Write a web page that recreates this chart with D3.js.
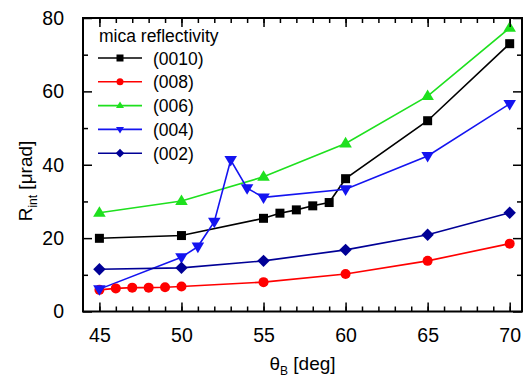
<!DOCTYPE html>
<html><head><meta charset="utf-8">
<script src="https://cdn.jsdelivr.net/npm/d3@7"></script>
<style>
html,body{margin:0;padding:0;background:#fff;}
svg{display:block;font-family:"Liberation Sans",Arial,sans-serif;}
</style></head>
<body><svg id="c" width="528" height="377"></svg>
<script>
const seriesNames = ["(0010)", "(008)", "(006)", "(004)", "(002)"];
const x0010 = [45, 50, 55, 56, 57, 58, 59, 60, 65, 70];
const y0010 = [19.95, 20.7, 25.4, 26.8, 27.7, 28.8, 29.7, 36.2, 52.0, 73.0];
const x008 = [45, 46, 47, 48, 49, 50, 55, 60, 65, 70];
const y008 = [5.9, 6.3, 6.5, 6.5, 6.6, 6.8, 8.0, 10.2, 13.8, 18.5];
const x006 = [45, 50, 55, 60, 65, 70];
const y006 = [26.9, 30.1, 36.7, 45.8, 58.7, 77.3];
const x004 = [45, 50, 51, 52, 53, 54, 55, 60, 65, 70];
const y004 = [6.1, 14.8, 17.7, 24.5, 41.3, 33.6, 31.1, 33.3, 42.4, 56.6];
const x002 = [45, 50, 55, 60, 65, 70];
const y002 = [11.5, 11.9, 13.8, 16.8, 20.9, 26.9];
const xTickLabels = [45, 50, 55, 60, 65, 70];
const yTickLabels = [0, 20, 40, 60, 80];
const legendTitle = "mica reflectivity";

const colors = ["#000000", "#ff0000", "#1ee01e", "#1414f0", "#000096"];
const shapes = ["square", "circle", "triangle", "triangleDown", "diamond"];
const series = [
  {x: x0010, y: y0010}, {x: x008, y: y008}, {x: x006, y: y006},
  {x: x004, y: y004}, {x: x002, y: y002}
].map((s, i) => ({name: seriesNames[i], color: colors[i], shape: shapes[i],
  pts: s.x.map((v, j) => [v, s.y[j]])}));

const W = 528, H = 377;
const m = {l: 83, t: 18, r: 6, b: 65.5};
const svg = d3.select("#c");
const x = d3.scaleLinear().domain([44, 70.75]).range([m.l, W - m.r]);
const y = d3.scaleLinear().domain([0, 80]).range([H - m.b, m.t]);

function markerPath(shape, s) {
  const h = s / 2;
  if (shape === "square") return `M${-h},${-h}H${h}V${h}H${-h}Z`;
  if (shape === "circle") return d3.symbol(d3.symbolCircle, Math.PI * h * h)();
  if (shape === "triangle") { const r = s * 0.6; return `M0,${-r}L${r * 0.95},${r * 0.6}L${-r * 0.95},${r * 0.6}Z`; }
  if (shape === "triangleDown") { const r = s * 0.6; return `M0,${r}L${r * 0.95},${-r * 0.6}L${-r * 0.95},${-r * 0.6}Z`; }
  if (shape === "diamond") { const r = s * 0.62; return `M0,${-r}L${r},0L0,${r}L${-r},0Z`; }
}
const msize = {square: 9, circle: 10, triangle: 11, triangleDown: 11, diamond: 10};

// data
const line = d3.line().x(d => x(d[0])).y(d => y(d[1]));
const g = svg.append("g");
series.forEach(s => {
  g.append("path").attr("d", line(s.pts)).attr("fill", "none")
    .attr("stroke", s.color).attr("stroke-width", 1.6);
});
series.forEach(s => {
  g.selectAll(null).data(s.pts).enter().append("path")
    .attr("d", markerPath(s.shape, msize[s.shape]))
    .attr("transform", d => `translate(${x(d[0])},${y(d[1])})`)
    .attr("fill", s.color);
});

// axes (ticks inward)
const fs = 19.5;
const axB = d3.axisBottom(x).tickValues(d3.range(45, 71, 1)).tickSize(-5).tickFormat("");
const axBM = d3.axisBottom(x).tickValues(xTickLabels).tickSize(-9).tickPadding(17).tickFormat(d3.format("d"));
const axT = d3.axisTop(x).tickValues(d3.range(45, 71, 1)).tickSize(-5).tickFormat("");
const axTM = d3.axisTop(x).tickValues(xTickLabels).tickSize(-9).tickFormat("");
const axL = d3.axisLeft(y).tickValues([10, 30, 50, 70]).tickSize(-5).tickFormat("");
const axLM = d3.axisLeft(y).tickValues(yTickLabels).tickSize(-9).tickPadding(19).tickFormat(d3.format("d"));
const axR = d3.axisRight(y).tickValues([10, 30, 50, 70]).tickSize(-5).tickFormat("");
const axRM = d3.axisRight(y).tickValues(yTickLabels).tickSize(-9).tickFormat("");
function put(ax, tr) {
  const a = svg.append("g").attr("transform", tr).call(ax);
  a.select(".domain").remove();
  a.selectAll("line").attr("stroke", "#000").attr("stroke-width", 1.5);
  a.selectAll("text").attr("font-size", fs).attr("fill", "#000")
    .attr("font-family", "Liberation Sans, Arial, sans-serif");
  return a;
}
put(axB, `translate(0,${H - m.b})`);
put(axBM, `translate(0,${H - m.b})`);
put(axT, `translate(0,${m.t})`);
put(axTM, `translate(0,${m.t})`);
put(axL, `translate(${m.l},0)`);
put(axLM, `translate(${m.l},0)`);
put(axR, `translate(${W - m.r},0)`);
put(axRM, `translate(${W - m.r},0)`);
svg.append("rect").attr("x", m.l).attr("y", m.t)
  .attr("width", W - m.r - m.l).attr("height", H - m.b - m.t)
  .attr("fill", "none").attr("stroke", "#000").attr("stroke-width", 2);

// axis titles
const xt = svg.append("text").attr("x", (m.l + W - m.r) / 2).attr("y", 370)
  .attr("text-anchor", "middle").attr("font-size", 19);
xt.append("tspan").text("θ");
xt.append("tspan").attr("font-size", 12).attr("dy", 5).text("B");
xt.append("tspan").attr("dy", -5).text(" [deg]");

const yt = svg.append("text").attr("transform", "translate(32,181) rotate(-90)")
  .attr("text-anchor", "middle").attr("font-size", 19);
yt.append("tspan").text("R");
yt.append("tspan").attr("font-size", 12).attr("dy", 5).text("int");
yt.append("tspan").attr("dy", -5).text(" [μrad]");

// legend
svg.append("text").attr("x", 99).attr("y", 42).attr("font-size", 17.5).text(legendTitle);
const lg = svg.append("g");
series.forEach((s, i) => {
  const cy = 58 + i * 23.8;
  lg.append("line").attr("x1", 98).attr("x2", 142).attr("y1", cy).attr("y2", cy)
    .attr("stroke", s.color).attr("stroke-width", 1.6);
  lg.append("path").attr("d", markerPath(s.shape, 7)).attr("transform", `translate(120,${cy})`)
    .attr("fill", s.color);
  lg.append("text").attr("x", 153).attr("y", cy + 6.5).attr("font-size", 17.5).text(s.name);
});
</script></body></html>
